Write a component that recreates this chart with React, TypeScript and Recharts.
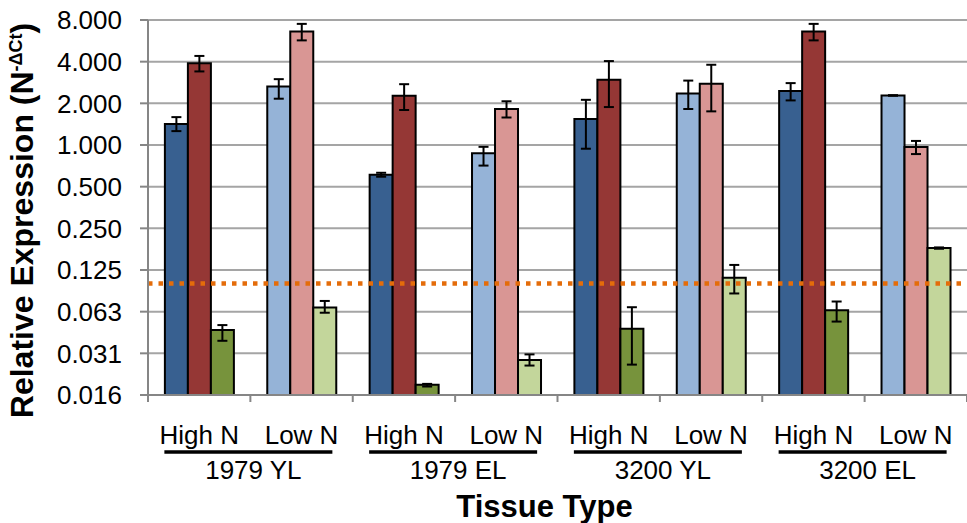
import React from 'react';
import { BarChart, Bar, Cell, XAxis, YAxis, CartesianGrid, ErrorBar, ReferenceLine, Label } from 'recharts';

const groups = ['1979 YL', '1979 EL', '3200 YL', '3200 EL'];
const conditions = ['High N', 'Low N', 'High N', 'Low N', 'High N', 'Low N', 'High N', 'Low N'];

// three genes per condition, value with low / high end of the error bar
const geneA = [1.42, 2.65, 0.61, 0.87, 1.54, 2.36, 2.46, 2.28];
const geneALow = [1.26, 2.16, 0.59, 0.71, 0.94, 1.82, 2.1, 2.27];
const geneAHigh = [1.59, 2.99, 0.63, 0.97, 2.12, 2.92, 2.8, 2.29];

const geneB = [3.9, 6.62, 2.27, 1.82, 2.96, 2.77, 6.62, 0.967];
const geneBLow = [3.4, 5.7, 1.79, 1.58, 1.88, 1.75, 5.7, 0.86];
const geneBHigh = [4.4, 7.5, 2.75, 2.07, 4.04, 3.8, 7.5, 1.07];

const geneC = [0.046, 0.067, 0.0185, 0.028, 0.047, 0.11, 0.064, 0.18];
const geneCLow = [0.0385, 0.0614, 0.018, 0.0255, 0.0259, 0.0846, 0.053, 0.178];
const geneCHigh = [0.05, 0.0747, 0.0188, 0.0307, 0.0673, 0.136, 0.074, 0.182];

const yTicks = [0.015625, 0.03125, 0.0625, 0.125, 0.25, 0.5, 1, 2, 4, 8];
const threshold = 0.1;

const data = conditions.map((cond, i) => ({
  key: `${groups[Math.floor(i / 2)]} ${cond}`,
  a: geneA[i],
  b: geneB[i],
  c: geneC[i],
  errA: [geneA[i] - geneALow[i], geneAHigh[i] - geneA[i]],
  errB: [geneB[i] - geneBLow[i], geneBHigh[i] - geneB[i]],
  errC: [geneC[i] - geneCLow[i], geneCHigh[i] - geneC[i]],
}));

const W = 967;
const H = 523;
const Y_AXIS_W = 148;
const PLOT_W = W - Y_AXIS_W;
const FONT = "'Liberation Sans', Arial, sans-serif";
const AXIS_GRAY = '#868686';

const colorsA = ['#386090', '#95B3D7'];
const colorsB = ['#953735', '#D99694'];
const colorsC = ['#77933C', '#C3D69B'];

const XTick = (props: any) => {
  const { x, y, index } = props;
  const bw = PLOT_W / conditions.length;
  const first = index % 2 === 0;
  return (
    <g fontFamily={FONT}>
      <line x1={x - bw / 2} x2={x - bw / 2} y1={y} y2={y + 7} stroke={AXIS_GRAY} strokeWidth={2} />
      {index === conditions.length - 1 && (
        <line x1={x + bw / 2} x2={x + bw / 2} y1={y} y2={y + 7} stroke={AXIS_GRAY} strokeWidth={2} />
      )}
      <text x={x} y={y + 49} textAnchor="middle" fontSize={26} fill="#000">
        {conditions[index]}
      </text>
      {first && (
        <g>
          <line x1={x + bw / 2 - 86} x2={x + bw / 2 + 82} y1={y + 57} y2={y + 57} stroke="#000" strokeWidth={3.5} />
          <text x={x + bw / 2 + 3} y={y + 84} textAnchor="middle" fontSize={26} fill="#000">
            {groups[index / 2]}
          </text>
        </g>
      )}
    </g>
  );
};

const YTitle = (props: any) => {
  const { viewBox } = props;
  const cx = viewBox.x + 33;
  const cy = viewBox.y + viewBox.height / 2 + 13;
  return (
    <text
      x={cx}
      y={cy}
      transform={`rotate(-90, ${cx}, ${cy})`}
      textAnchor="middle"
      fontFamily={FONT}
      fontWeight="bold"
      fontSize={32}
      fill="#000"
    >
      Relative Expression (N
      <tspan fontSize={18} dy={-11}>-ΔCt</tspan>
      <tspan dy={11}>)</tspan>
    </text>
  );
};

const XTitle = (props: any) => {
  const { viewBox } = props;
  return (
    <text
      x={viewBox.x + viewBox.width / 2 - 13}
      y={H - 6}
      textAnchor="middle"
      fontFamily={FONT}
      fontWeight="bold"
      fontSize={31}
      fill="#000"
    >
      Tissue Type
    </text>
  );
};

export default function App() {
  return (
    <div style={{ width: W, height: H, background: '#fff' }}>
      <style>{'body{margin:0}'}</style>
      <BarChart
        width={W}
        height={H}
        data={data}
        margin={{ top: 20, right: 0, bottom: 0, left: 0 }}
        barCategoryGap="16.5%"
        barGap={0}
      >
        <CartesianGrid vertical={false} stroke="#A5A5A5" strokeWidth={2} />
        <XAxis
          dataKey="key"
          height={H - 20 - 375}
          interval={0}
          tickLine={false}
          tickSize={0}
          tickMargin={0}
          axisLine={{ stroke: AXIS_GRAY, strokeWidth: 2 }}
          tick={<XTick />}
        >
          <Label content={<XTitle />} />
        </XAxis>
        <YAxis
          scale="log"
          type="number"
          domain={[yTicks[0], yTicks[yTicks.length - 1]]}
          ticks={yTicks}
          interval={0}
          width={Y_AXIS_W}
          tickSize={8}
          tickMargin={18}
          tickLine={{ stroke: AXIS_GRAY, strokeWidth: 2 }}
          axisLine={{ stroke: AXIS_GRAY, strokeWidth: 2 }}
          tick={{ fill: '#000', fontSize: 26, fontFamily: FONT }}
          tickFormatter={(v: number) => v.toFixed(3)}
        >
          <Label content={<YTitle />} />
        </YAxis>
        <Bar dataKey="a" stroke="#000" strokeWidth={2} isAnimationActive={false}>
          {data.map((_, i) => (
            <Cell key={i} fill={colorsA[i % 2]} />
          ))}
          <ErrorBar dataKey="errA" width={5} stroke="#000" strokeWidth={2} />
        </Bar>
        <Bar dataKey="b" stroke="#000" strokeWidth={2} isAnimationActive={false}>
          {data.map((_, i) => (
            <Cell key={i} fill={colorsB[i % 2]} />
          ))}
          <ErrorBar dataKey="errB" width={5} stroke="#000" strokeWidth={2} />
        </Bar>
        <Bar dataKey="c" stroke="#000" strokeWidth={2} isAnimationActive={false}>
          {data.map((_, i) => (
            <Cell key={i} fill={colorsC[i % 2]} />
          ))}
          <ErrorBar dataKey="errC" width={5} stroke="#000" strokeWidth={2} />
        </Bar>
        <ReferenceLine y={threshold} stroke="#E46C0A" strokeWidth={4.5} strokeDasharray="4.5 6" />
      </BarChart>
    </div>
  );
}
